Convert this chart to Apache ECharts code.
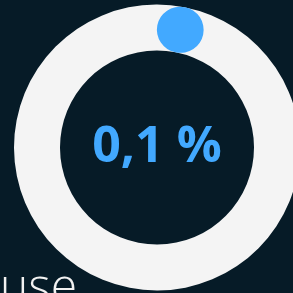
<!DOCTYPE html>
<html>
<head>
<meta charset="utf-8">
<style>
  html, body { margin: 0; padding: 0; background: #061b27; }
  #chart { width: 293px; height: 293px; }
</style>
<script src="https://cdn.jsdelivr.net/npm/echarts@6/dist/echarts.min.js"></script>
</head>
<body>
<div id="chart"></div>
<script>
// 数据
const usageValue = [0.1];
const usageMax = 100;
const titleText = 'use';

const myChart = echarts.init(document.getElementById('chart'), null, {renderer: 'canvas'});

const option = {
  backgroundColor: '#061b27',
  title: {
    text: titleText,
    left: -5,
    top: 260,
    textStyle: {
      color: '#f2f2f2',
      fontFamily: 'Open Sans',
      fontWeight: 300,
      fontSize: 48
    }
  },
  series: [
    {
      type: 'gauge',
      center: [157, 147.5],
      radius: 143,
      startAngle: 79,
      endAngle: -281,
      min: 0,
      max: usageMax,
      axisLine: {
        lineStyle: { width: 46, color: [[1, '#f4f4f4']] }
      },
      progress: {
        show: true,
        width: 46,
        roundCap: true,
        itemStyle: { color: '#42a9ff' }
      },
      pointer: { show: false },
      axisTick: { show: false },
      splitLine: { show: false },
      axisLabel: { show: false },
      anchor: { show: false },
      title: { show: false },
      detail: {
        offsetCenter: [0, 0],
        fontFamily: 'Open Sans',
        fontWeight: 'bold',
        fontSize: 50,
        color: '#42a9ff',
        formatter: v => String(v).replace('.', ',') + ' %'
      },
      data: usageValue.map(v => ({value: v}))
    }
  ]
};

myChart.setOption(option, true);
</script>
</body>
</html>
